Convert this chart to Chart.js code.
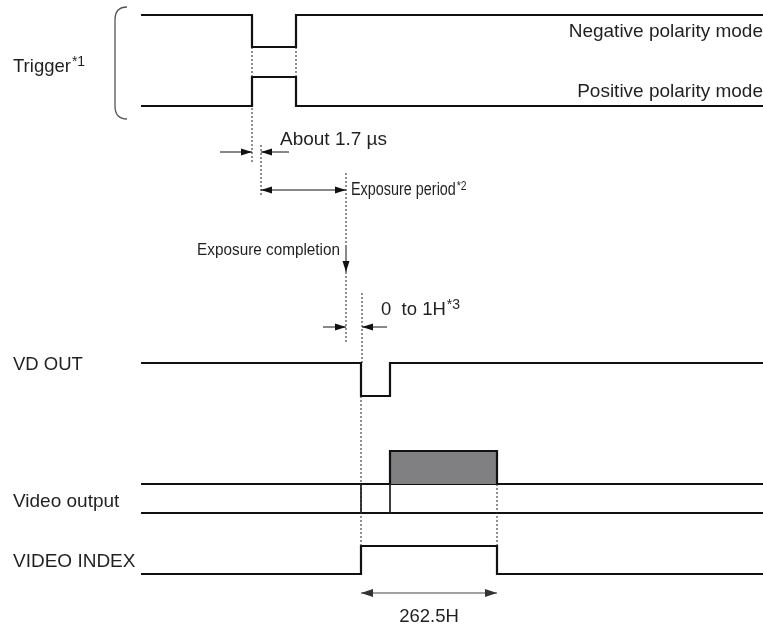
<!DOCTYPE html>
<html>
<head>
<meta charset="utf-8">
<script src="https://cdn.jsdelivr.net/npm/chart.js@4.4.1/dist/chart.umd.min.js"></script>
<style>
  html, body { margin: 0; padding: 0; background: #fff; }
  canvas { display: block; }
</style>
</head>
<body>
<canvas id="grafico" width="763" height="628"></canvas>
<script>
// time axis (arbitrary units, left to right)
const timeStart = 141;
const timeEnd = 763;
const triggerEdges = [252, 296];
const vdOutEdges = [361, 390];
const videoBurst = [390, 497];
const videoIndexEdges = [361, 497];
const triggerDelayEnd = 261;   // about 1.7 us after trigger edge
const exposureEnd = 346;
const vdDelayEnd = 362;        // 0 to 1H after exposure completion

// signal levels [idle, active]
const trigNegLevels = [15, 47];
const trigPosLevels = [106, 77];
const vdOutLevels = [363, 396];
const videoOutRails = [484, 513];
const videoBurstTop = 451;
const videoIndexLevels = [574, 546];

// texts
const signalNames = ["Trigger", "VD OUT", "Video output", "VIDEO INDEX"];
const modeNames = ["Negative polarity mode", "Positive polarity mode"];
const timingNotes = ["About 1.7 \u00b5s", "Exposure period", "Exposure completion", "0  to 1H", "262.5H"];

function wave(edges, lv) {
    return [
        { x: timeStart, y: lv[0] }, { x: edges[0], y: lv[0] }, { x: edges[0], y: lv[1] },
        { x: edges[1], y: lv[1] }, { x: edges[1], y: lv[0] }, { x: timeEnd, y: lv[0] }
    ];
}
function flat(level) {
    return [{ x: timeStart, y: level }, { x: timeEnd, y: level }];
}
function vline(t, a, b) {
    return [{ x: t, y: a }, { x: t, y: b }];
}

const solid = { borderColor: "#111", borderWidth: 2.2, pointRadius: 0, showLine: true, clip: false, borderJoinStyle: "miter" };
const thin = { borderColor: "#222", borderWidth: 1, pointRadius: 0, showLine: true, clip: false };
const dotted = { borderColor: "#222", borderWidth: 1, borderDash: [2, 2], pointRadius: 0, showLine: true, clip: false };

const datasets = [
    // dotted guides
    Object.assign({ data: vline(triggerEdges[0], trigNegLevels[1], trigPosLevels[1]) }, dotted),
    Object.assign({ data: vline(triggerEdges[1], trigNegLevels[1], trigPosLevels[1]) }, dotted),
    Object.assign({ data: vline(triggerEdges[0], 108, 163) }, dotted),
    Object.assign({ data: vline(triggerDelayEnd, 145, 197) }, dotted),
    Object.assign({ data: vline(exposureEnd, 173, 245) }, dotted),
    Object.assign({ data: vline(exposureEnd, 272, 342) }, dotted),
    Object.assign({ data: vline(vdDelayEnd, 293, vdOutLevels[0]) }, dotted),
    Object.assign({ data: vline(vdOutEdges[0], vdOutLevels[1], videoIndexLevels[1]) }, dotted),
    Object.assign({ data: vline(videoBurst[1], videoOutRails[0], videoIndexLevels[1]) }, dotted),
    // video data burst
    Object.assign({}, solid, {
        data: [{ x: videoBurst[0], y: videoOutRails[0] }, { x: videoBurst[0], y: videoBurstTop },
               { x: videoBurst[1], y: videoBurstTop }, { x: videoBurst[1], y: videoOutRails[0] }],
        fill: { value: videoOutRails[0] },
        backgroundColor: "#808083"
    }),
    Object.assign({ data: vline(vdOutEdges[0], videoOutRails[0], videoOutRails[1]) }, thin),
    Object.assign({ data: vline(vdOutEdges[1], videoOutRails[0], videoOutRails[1]) }, thin),
    // waveforms
    Object.assign({ data: wave(triggerEdges, trigNegLevels) }, solid),
    Object.assign({ data: wave(triggerEdges, trigPosLevels) }, solid),
    Object.assign({ data: wave(vdOutEdges, vdOutLevels) }, solid),
    Object.assign({ data: flat(videoOutRails[0]) }, solid),
    Object.assign({ data: flat(videoOutRails[1]) }, solid),
    Object.assign({ data: wave(videoIndexEdges, videoIndexLevels) }, solid)
];

function arrowHead(ctx, x0, y0, x1, y1, len, half) {
    const a = Math.atan2(y1 - y0, x1 - x0);
    ctx.beginPath();
    ctx.moveTo(x1, y1);
    ctx.lineTo(x1 - len * Math.cos(a) + half * Math.sin(a), y1 - len * Math.sin(a) - half * Math.cos(a));
    ctx.lineTo(x1 - len * Math.cos(a) - half * Math.sin(a), y1 - len * Math.sin(a) + half * Math.cos(a));
    ctx.closePath();
    ctx.fill();
}
function arrow(ctx, x0, y0, x1, y1, both, len, half) {
    ctx.beginPath();
    ctx.moveTo(x0, y0);
    ctx.lineTo(x1, y1);
    ctx.stroke();
    arrowHead(ctx, x0, y0, x1, y1, len, half);
    if (both) arrowHead(ctx, x1, y1, x0, y0, len, half);
}
function label(ctx, str, x, y, opt) {
    opt = opt || {};
    const size = opt.size || 18.5;
    const sx = opt.squeeze || 1;
    const supSize = Math.round(size * 0.74);
    ctx.save();
    ctx.font = size + "px 'Liberation Sans', Arial, sans-serif";
    ctx.textBaseline = "alphabetic";
    const w = ctx.measureText(str).width * sx;
    let sw = 0;
    if (opt.sup) {
        ctx.font = supSize + "px 'Liberation Sans', Arial, sans-serif";
        sw = ctx.measureText(opt.sup).width * sx;
    }
    let left = x;
    if (opt.align === "right") left = x - w - sw;
    if (opt.align === "center") left = x - (w + sw) / 2;
    ctx.translate(left, y);
    ctx.scale(sx, 1);
    ctx.fillStyle = "#231f20";
    ctx.font = size + "px 'Liberation Sans', Arial, sans-serif";
    ctx.fillText(str, 0, 0);
    if (opt.sup) {
        ctx.font = supSize + "px 'Liberation Sans', Arial, sans-serif";
        ctx.fillText(opt.sup, w / sx + 1, -size * 0.3);
    }
    ctx.restore();
}

const annotations = {
    id: "annotations",
    afterDatasetsDraw(chart) {
        const ctx = chart.ctx;
        const X = v => chart.scales.x.getPixelForValue(v);
        const Y = v => chart.scales.y.getPixelForValue(v);
        ctx.save();
        // bracket around trigger modes
        ctx.strokeStyle = "#555";
        ctx.lineWidth = 1.3;
        ctx.beginPath();
        ctx.moveTo(127, 7);
        ctx.quadraticCurveTo(115, 7, 115, 20);
        ctx.lineTo(115, 106);
        ctx.quadraticCurveTo(115, 119, 127, 119);
        ctx.stroke();

        ctx.strokeStyle = "#111";
        ctx.fillStyle = "#111";
        ctx.lineWidth = 1;
        const ya = Y(152);
        arrow(ctx, X(220), ya, X(triggerEdges[0]), ya, false, 11, 3.5);
        arrow(ctx, X(289), ya, X(triggerDelayEnd), ya, false, 11, 3.5);
        const ye = Y(190);
        arrow(ctx, X(triggerDelayEnd), ye, X(exposureEnd), ye, true, 11, 3.5);
        arrow(ctx, X(exposureEnd), Y(245), X(exposureEnd), Y(272), false, 11, 3.5);
        const yv = Y(327);
        arrow(ctx, X(323), yv, X(exposureEnd), yv, false, 11, 3.5);
        arrow(ctx, X(387), yv, X(vdDelayEnd), yv, false, 11, 3.5);
        ctx.strokeStyle = "#444";
        ctx.fillStyle = "#333";
        const yi = Y(593);
        arrow(ctx, X(videoIndexEdges[0]), yi, X(videoIndexEdges[1]), yi, true, 12, 4);
        ctx.restore();

        label(ctx, signalNames[0], 13, 72, { sup: "*1" });
        label(ctx, signalNames[1], 13, 370);
        label(ctx, signalNames[2], 13, 507, { size: 19 });
        label(ctx, signalNames[3], 13, 567, { size: 19 });
        label(ctx, modeNames[0], 763, 37, { align: "right", size: 19 });
        label(ctx, modeNames[1], 763, 97, { align: "right", size: 19 });
        label(ctx, timingNotes[0], 280, 145, { size: 19 });
        label(ctx, timingNotes[1], 351, 195, { size: 18, squeeze: 0.8, sup: "*2" });
        label(ctx, timingNotes[2], 340, 255, { size: 17, squeeze: 0.9, align: "right" });
        label(ctx, timingNotes[3], 381, 315, { sup: "*3" });
        label(ctx, timingNotes[4], X((videoIndexEdges[0] + videoIndexEdges[1]) / 2), 622, { align: "center" });
    }
};

new Chart(document.getElementById("grafico"), {
    type: "scatter",
    data: { datasets: datasets },
    options: {
        responsive: false,
        animation: false,
        layout: { padding: 0 },
        plugins: { legend: { display: false }, tooltip: { enabled: false } },
        scales: {
            x: { type: "linear", min: 0, max: 763, display: false },
            y: { type: "linear", min: 0, max: 628, reverse: true, display: false }
        }
    },
    plugins: [annotations]
});
</script>
</body>
</html>
